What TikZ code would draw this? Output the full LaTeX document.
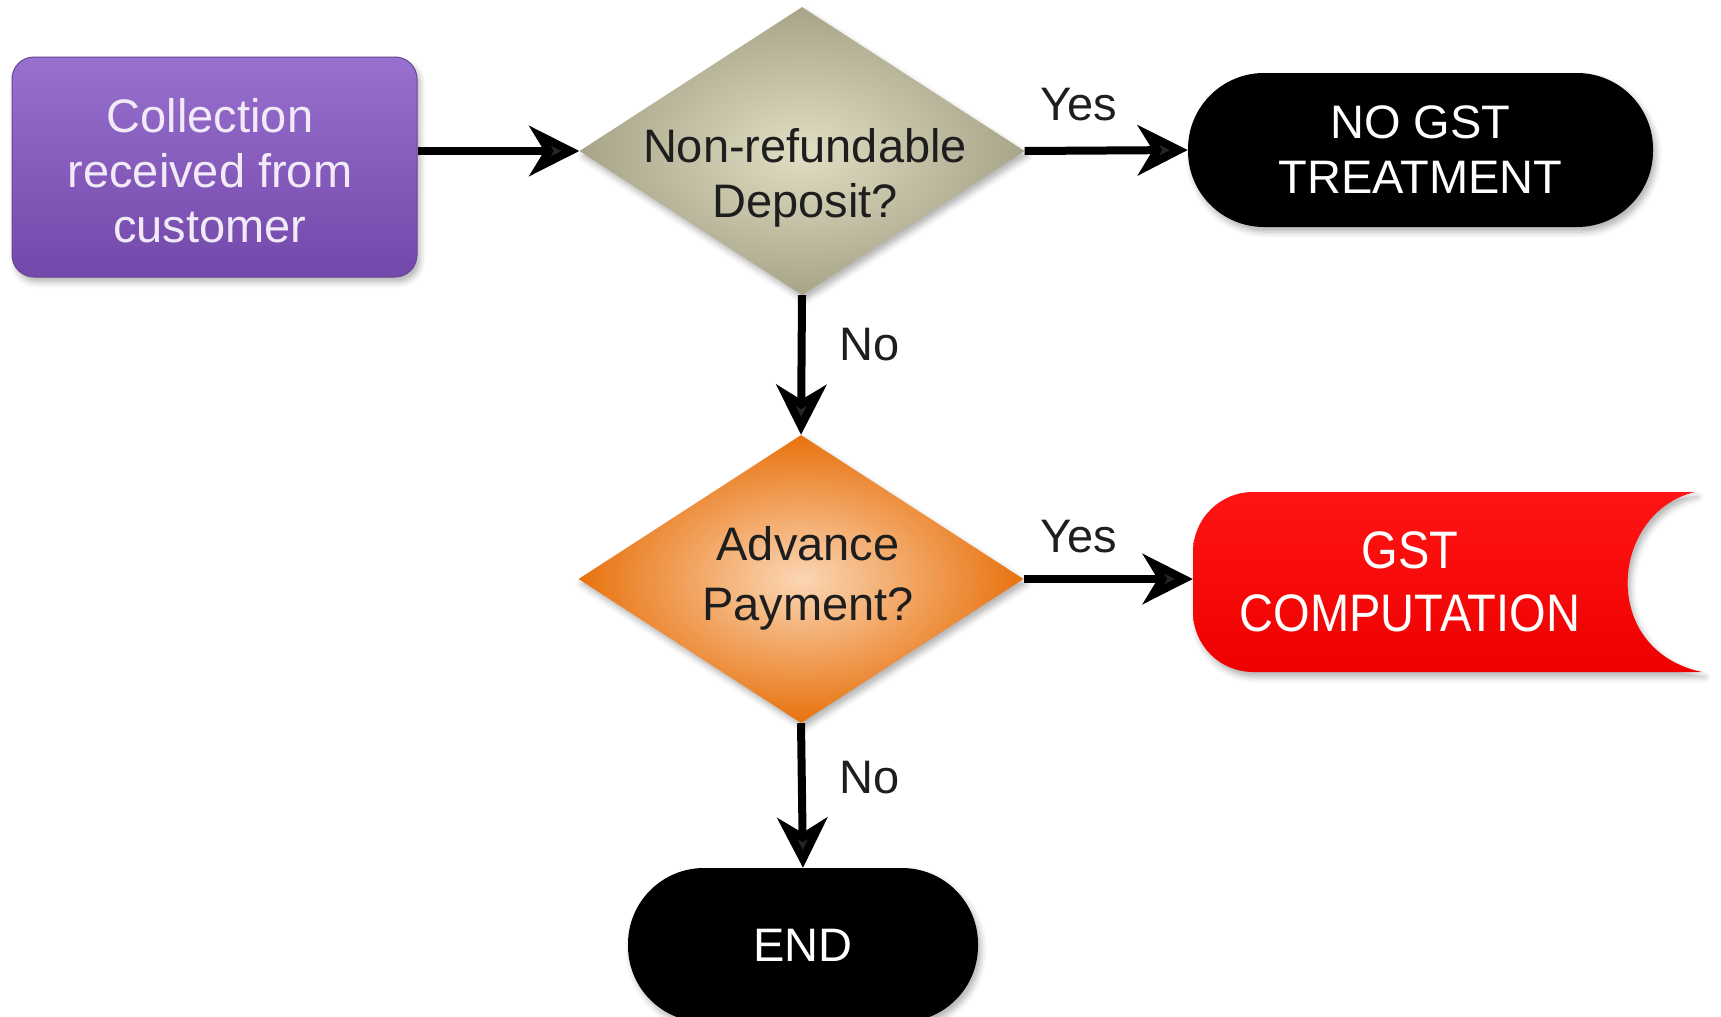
\documentclass[tikz,border=0pt]{standalone}
\usepackage{fontspec}
\setmainfont{Liberation Sans}
\usetikzlibrary{shapes.geometric,arrows.meta,shadows.blur}
\definecolor{purpTop}{HTML}{9870CE}
\definecolor{purpBot}{HTML}{7248AA}
\definecolor{purpEdge}{HTML}{6A4496}
\definecolor{purpText}{HTML}{F2EAF6}
\definecolor{khakiIn}{HTML}{E2DEC4}
\definecolor{khakiOut}{HTML}{A8A488}
\definecolor{orangeIn}{HTML}{FBD6B4}
\definecolor{orangeOut}{HTML}{E8720E}
\definecolor{redTop}{HTML}{FF1414}
\definecolor{redBot}{HTML}{EE0000}
\definecolor{textDark}{HTML}{1E1E1E}
\begin{document}
\begin{tikzpicture}[x=1pt,y=-1pt,
  shad/.style={blur shadow={shadow xshift=3pt, shadow yshift=-5pt, shadow blur radius=6pt, shadow opacity=30}},
  txt/.style={font=\fontsize{47}{55}\selectfont, align=center, inner sep=0pt},
  pill/.style={shad, rectangle, rounded corners=76pt, fill=black, text=white, minimum height=154pt, txt},
  dia/.style={shad, diamond, inner sep=0pt, minimum width=445pt, minimum height=288pt},
  arr/.style={line width=8pt, -{Stealth[length=50pt,width=50pt,inset=15pt]}},
  lbl/.style={txt, text=textDark}
]
\useasboundingbox (0,0) rectangle (1721,1017);

% start box
\node[shad, rectangle, rounded corners=22pt, minimum width=405pt, minimum height=220pt,
      top color=purpTop, bottom color=purpBot, draw=purpEdge, line width=1pt] (start) at (214.5,167) {};
\node[txt, text=purpText] (startt) at (210,171) {Collection\\received from\\customer};

% decision 1
\node[dia, inner color=khakiIn, outer color=khakiOut] (d1) at (802,151) {};
\node[txt, text=textDark] (d1t) at (805,178) {Non-refundable\\Deposit?};

% no gst
\node[pill, minimum width=465pt] (nogst) at (1420.5,150) {\fontsize{47}{50}\selectfont NO GST\\TREATMENT};

% decision 2
\node[dia, inner color=orangeIn, outer color=orangeOut] (d2) at (801,579) {};
\node[txt, text=textDark, font=\fontsize{47}{60}\selectfont] (d2t) at (808,578) {Advance\\Payment?};

% gst computation (flag shape)
\path[shad, top color=redTop, bottom color=redBot]
  (1695,492) .. controls (1610,512) and (1598,650) .. (1702,672)
  -- (1253,672) arc[start angle=90, end angle=180, radius=60]
  -- (1193,552) arc[start angle=180, end angle=270, radius=60] -- cycle;
\node[txt, text=white, minimum width=434pt, minimum height=181pt, font=\fontsize{48}{63}\selectfont] (gst) at (1410,582) {\scalebox{0.98}[1.1]{GST}\\\scalebox{0.98}[1.1]{COMPUTATION}};

% end
\node[pill, minimum width=350pt] (endn) at (803,945) {END};

% connectors
\draw[arr] (start.east |- d1.west) -- (d1.west);
\draw[arr] (d1.east) -- (nogst.west);
\draw[arr] (d1.south) -- (d2.north);
\draw[arr] (d2.east) -- (gst.west |- d2.east);
\draw[arr] (d2.south) -- (endn.north);

% labels
\node[lbl] (yes1) at (1079,105) {Yes};
\node[lbl] (no1) at (870,345) {No};
\node[lbl] (yes2) at (1079,537) {Yes};
\node[lbl] (no2) at (870,778) {No};
\end{tikzpicture}
\end{document}
